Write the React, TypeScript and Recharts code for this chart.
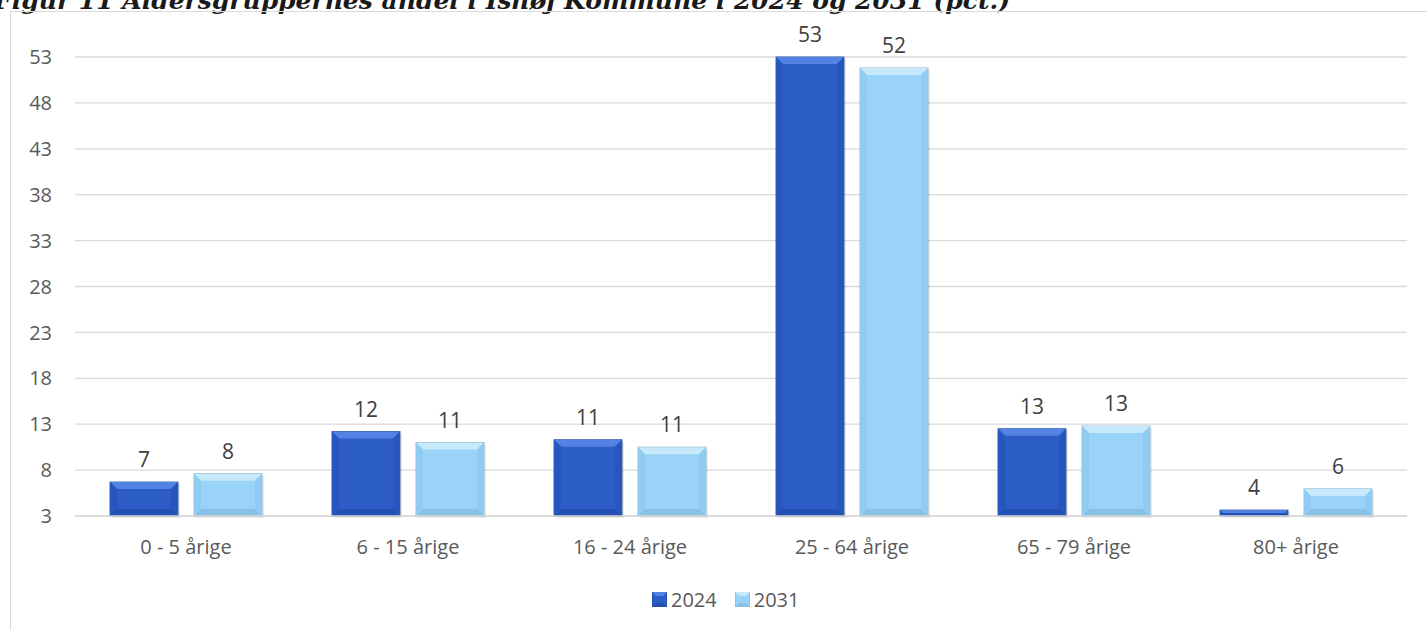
import React from 'react'
import { BarChart, Bar, XAxis, YAxis, CartesianGrid, LabelList } from 'recharts'

const categories = ['0 - 5 årige', '6 - 15 årige', '16 - 24 årige', '25 - 64 årige', '65 - 79 årige', '80+ årige']
const values2024 = [6.7, 12.2, 11.3, 53.0, 12.5, 3.65]
const values2031 = [7.6, 11.0, 10.5, 51.8, 12.8, 5.95]
const yTicks = [3, 8, 13, 18, 23, 28, 33, 38, 43, 48, 53]

const data = categories.map((c, i) => ({ name: c, y2024: values2024[i], y2031: values2031[i] }))

type Palette = { main: string; top: string; side: string; bottom: string; edge: string }

const dark: Palette = { main: '#2C5CC6', top: '#5283E3', side: '#2756BE', bottom: '#2350B0', edge: '#1c3f8f' }
const light: Palette = { main: '#99D3F7', top: '#C6E9FC', side: '#90CCF1', bottom: '#88C1E6', edge: '#78a8c8' }

function bevelShape(p: Palette) {
  return (props: any) => {
    const { x, y, width: w, height: h } = props
    if (!h || h <= 0) return <g />
    const b = Math.min(7, h / 2, w / 2)
    return (
      <g>
        <rect x={x + 2} y={y + 2} width={w} height={h} fill="#000" opacity={0.08} />
        <rect x={x} y={y} width={w} height={h} fill={p.main} stroke={p.edge} strokeWidth={0.8} />
        <polygon points={`${x},${y} ${x + w},${y} ${x + w - b},${y + b} ${x + b},${y + b}`} fill={p.top} />
        <polygon points={`${x},${y} ${x + b},${y + b} ${x + b},${y + h - b} ${x},${y + h}`} fill={p.side} />
        <polygon points={`${x + w},${y} ${x + w},${y + h} ${x + w - b},${y + h - b} ${x + w - b},${y + b}`} fill={p.side} />
        <polygon points={`${x},${y + h} ${x + b},${y + h - b} ${x + w - b},${y + h - b} ${x + w},${y + h}`} fill={p.bottom} />
      </g>
    )
  }
}

function LegendIcon({ p }: { p: Palette }) {
  return (
    <svg width={15} height={15} style={{ display: 'block' }}>
      <rect x={0} y={0} width={15} height={15} fill={p.main} stroke={p.edge} strokeWidth={0.8} />
      <polygon points="0,0 15,0 11,4 4,4" fill={p.top} />
      <polygon points="0,15 4,11 11,11 15,15" fill={p.bottom} />
    </svg>
  )
}

const font = '"Open Sans", sans-serif'

export default function App() {
  return (
    <div style={{ position: 'absolute', left: 0, top: 0, width: 1427, height: 630, overflow: 'hidden', background: '#fff', fontFamily: font }}>
      <svg width={1427} height={20} style={{ position: 'absolute', left: 0, top: 0 }}>
        <text x={-6} y={9} fontFamily='"DejaVu Serif", serif' fontWeight="bold" fontStyle="italic" fontSize={25} fill="#1a1a1a">
          Figur 11 Aldersgruppernes andel i Ishøj Kommune i 2024 og 2031 (pct.)
        </text>
      </svg>
      <div style={{ position: 'absolute', left: 10, top: 11, width: 1440, height: 640, border: '1.5px solid #d9d9d9', boxSizing: 'border-box' }} />
      <div style={{ position: 'absolute', left: 10, top: 11 }}>
        <BarChart width={1417} height={619} data={data} margin={{ top: 46, right: 20, left: 0, bottom: 74 }} barCategoryGap={35} barGap={16}>
          <CartesianGrid vertical={false} stroke="#d9d9d9" strokeWidth={1.3} />
          <XAxis
            dataKey="name"
            height={40}
            tickLine={false}
            axisLine={{ stroke: '#d9d9d9', strokeWidth: 1.3 }}
            tickSize={0}
            tickMargin={24}
            tick={{ fill: '#595959', fontSize: 20, fontFamily: font }}
            interval={0}
          />
          <YAxis
            width={65}
            domain={[3, 53]}
            ticks={yTicks}
            interval={0}
            tickLine={false}
            axisLine={false}
            tickSize={0}
            tickMargin={23}
            tick={{ fill: '#595959', fontSize: 20, fontFamily: font }}
          />
          <Bar dataKey="y2024" barSize={68} shape={bevelShape(dark)} isAnimationActive={false}>
            <LabelList dataKey="y2024" position="top" offset={15} formatter={(v: any) => Math.round(Number(v))} fill="#404040" fontSize={21} fontFamily={font} />
          </Bar>
          <Bar dataKey="y2031" barSize={68} shape={bevelShape(light)} isAnimationActive={false}>
            <LabelList dataKey="y2031" position="top" offset={15} formatter={(v: any) => Math.round(Number(v))} fill="#404040" fontSize={21} fontFamily={font} />
          </Bar>
        </BarChart>
      </div>
      <div style={{ position: 'absolute', left: 652, top: 586, display: 'flex', alignItems: 'center', fontSize: 20, color: '#595959' }}>
        <LegendIcon p={dark} />
        <span style={{ marginLeft: 4, marginRight: 18 }}>2024</span>
        <LegendIcon p={light} />
        <span style={{ marginLeft: 4 }}>2031</span>
      </div>
    </div>
  )
}
